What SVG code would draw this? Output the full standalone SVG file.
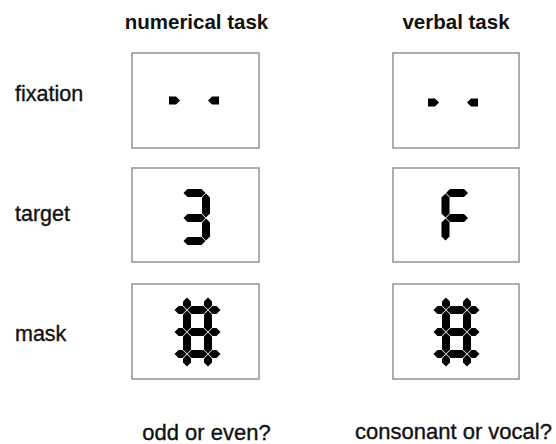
<svg xmlns="http://www.w3.org/2000/svg" xmlns:xlink="http://www.w3.org/1999/xlink" width="556" height="444" viewBox="0 0 556 444">
<style>
  .hdr { font-family: "Liberation Sans", Arial, sans-serif; font-size: 20.5px; font-weight: bold; fill: #111; }
  .lbl { font-family: "Liberation Sans", Arial, sans-serif; font-size: 21.5px; fill: #111; stroke: #111; stroke-width: 0.35; }
  .q { font-family: "Liberation Sans", Arial, sans-serif; font-size: 22px; fill: #111; stroke: #111; stroke-width: 0.35; }
  .box { fill: #fff; stroke: #9a9a9a; stroke-width: 1.6; }
  .seg { fill: #000; }
</style>
<defs>
  <g id="dots">
    <polygon class="seg" points="169,96.5 176,96.5 180,100.5 176,104.5 169,104.5"/>
    <polygon class="seg" points="219,96.5 212,96.5 208,100.5 212,104.5 219,104.5"/>
  </g>
  <g id="maskglyph">
    <polygon class="seg" points="174.5,310 178.5,306 182.5,306 186.5,310 182.5,314 178.5,314"/>
    <polygon class="seg" points="187.5,310 191.5,306 203.5,306 207.5,310 203.5,314 191.5,314"/>
    <polygon class="seg" points="208.5,310 212.5,306 216.5,306 220.5,310 216.5,314 212.5,314"/>
    <polygon class="seg" points="174.5,332 178.5,328 182.5,328 186.5,332 182.5,336 178.5,336"/>
    <polygon class="seg" points="187.5,332 191.5,328 203.5,328 207.5,332 203.5,336 191.5,336"/>
    <polygon class="seg" points="208.5,332 212.5,328 216.5,328 220.5,332 216.5,336 212.5,336"/>
    <polygon class="seg" points="174.5,354 178.5,350 182.5,350 186.5,354 182.5,358 178.5,358"/>
    <polygon class="seg" points="187.5,354 191.5,350 203.5,350 207.5,354 203.5,358 191.5,358"/>
    <polygon class="seg" points="208.5,354 212.5,350 216.5,350 220.5,354 216.5,358 212.5,358"/>
    <polygon class="seg" points="187,297.5 191,301.5 191,305.5 187,309.5 183,305.5 183,301.5"/>
    <polygon class="seg" points="187,310.5 191,314.5 191,327.5 187,331.5 183,327.5 183,314.5"/>
    <polygon class="seg" points="187,332.5 191,336.5 191,349.5 187,353.5 183,349.5 183,336.5"/>
    <polygon class="seg" points="187,354.5 191,358.5 191,362.5 187,366.5 183,362.5 183,358.5"/>
    <polygon class="seg" points="208,297.5 212,301.5 212,305.5 208,309.5 204,305.5 204,301.5"/>
    <polygon class="seg" points="208,310.5 212,314.5 212,327.5 208,331.5 204,327.5 204,314.5"/>
    <polygon class="seg" points="208,332.5 212,336.5 212,349.5 208,353.5 204,349.5 204,336.5"/>
    <polygon class="seg" points="208,354.5 212,358.5 212,362.5 208,366.5 204,362.5 204,358.5"/>
  </g>
</defs>
<rect width="556" height="444" fill="#fff"/>

<g id="headers">
  <text class="hdr" x="196.5" y="29" text-anchor="middle">numerical task</text>
  <text class="hdr" x="456" y="29" text-anchor="middle">verbal task</text>
</g>

<g id="row-labels">
  <text class="lbl" x="15" y="101">fixation</text>
  <text class="lbl" x="15" y="221">target</text>
  <text class="lbl" x="15" y="341">mask</text>
</g>

<g id="num-fixation">
  <rect class="box" x="132" y="53" width="127" height="95"/>
  <use xlink:href="#dots" href="#dots"/>
</g>
<g id="verb-fixation">
  <rect class="box" x="393" y="53" width="126" height="95"/>
  <use xlink:href="#dots" href="#dots" transform="translate(259,2)"/>
</g>

<g id="num-target">
  <rect class="box" x="132" y="168" width="127" height="94"/>
  <polygon class="seg" points="183.5,193 187.5,189 201.5,189 205.5,193 201.5,197 187.5,197"/>
  <polygon class="seg" points="183.5,218 187.5,214 201.5,214 205.5,218 201.5,222 187.5,222"/>
  <polygon class="seg" points="183.5,241 187.5,237 201.5,237 205.5,241 201.5,245 187.5,245"/>
  <polygon class="seg" points="206,193.5 210,197.5 210,213.5 206,217.5 202,213.5 202,197.5"/>
  <polygon class="seg" points="206,218.5 210,222.5 210,236.5 206,240.5 202,236.5 202,222.5"/>
</g>
<g id="verb-target">
  <rect class="box" x="393" y="168" width="126" height="94"/>
  <polygon class="seg" points="446,193 450,189 464,189 468,193 464,197 450,197"/>
  <polygon class="seg" points="446,218 450,214 464,214 468,218 464,222 450,222"/>
  <polygon class="seg" points="445.5,193.5 449.5,197.5 449.5,213.5 445.5,217.5 441.5,213.5 441.5,197.5"/>
  <polygon class="seg" points="445.5,218.5 449.5,222.5 449.5,236.5 445.5,240.5 441.5,236.5 441.5,222.5"/>
</g>

<g id="num-mask">
  <rect class="box" x="132" y="284" width="127" height="95"/>
  <use xlink:href="#maskglyph" href="#maskglyph"/>
</g>
<g id="verb-mask">
  <rect class="box" x="393" y="284" width="126" height="95"/>
  <use xlink:href="#maskglyph" href="#maskglyph" transform="translate(259,0)"/>
</g>

<g id="questions">
  <text class="q" x="206.5" y="440" text-anchor="middle">odd or even?</text>
  <text class="q" x="453.5" y="439" text-anchor="middle">consonant or vocal?</text>
</g>
</svg>
